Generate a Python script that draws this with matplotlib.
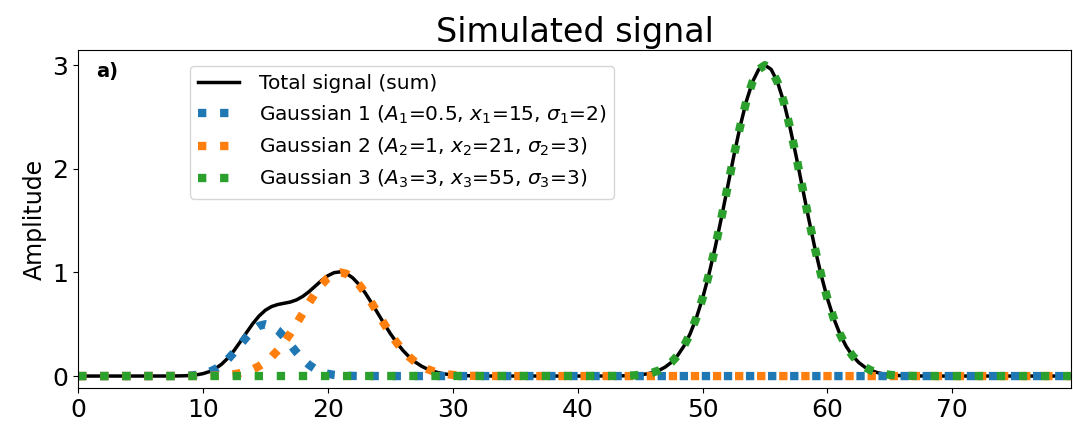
import matplotlib
matplotlib.use("Agg")
import matplotlib.pyplot as plt
import numpy as np

# Gaussian component parameters
amplitudes = [0.5, 1, 3]
centers = [15, 21, 55]
widths = [2, 3, 3]
colors = ["C0", "C1", "C2"]

x = np.arange(0, 80, 0.5)


def gaussian(x, a, mu, sigma):
    return a * np.exp(-((x - mu) ** 2) / (2 * sigma ** 2))


components = [gaussian(x, a, m, s) for a, m, s in zip(amplitudes, centers, widths)]
total = np.sum(components, axis=0)

fig = plt.figure(figsize=(10.73, 4.25), dpi=100)
ax = fig.add_axes([0.0727, 0.0871, 0.9254, 0.795])

ax.plot(x, total, color="black", lw=2.5, label="Total signal (sum)")
for i, (comp, a, m, s, c) in enumerate(zip(components, amplitudes, centers, widths, colors), start=1):
    label = rf"Gaussian {i} ($A_{i}$={a:g}, $x_{i}$={m:g}, $\sigma_{i}$={s:g})"
    ax.plot(x, comp, ":", color=c, lw=6, label=label)

ax.set_xlim(x.min(), x.max())
ax.set_ylim(-0.115, 3.145)
ax.set_xticks(np.arange(0, 80, 10))
ax.set_yticks([0, 1, 2, 3])
ax.tick_params(labelsize=18)
ax.set_ylabel("Amplitude", fontsize=17)
ax.set_title("Simulated signal", fontsize=24)
ax.text(0.018, 0.965, "a)", transform=ax.transAxes, fontsize=14,
        fontweight="bold", va="top", ha="left")
ax.legend(loc="upper left", bbox_to_anchor=(0.107, 0.97), fontsize=14.5,
          handlelength=2.0, handletextpad=1.0, borderaxespad=0.3)

fig.savefig("out.png", dpi=100)
